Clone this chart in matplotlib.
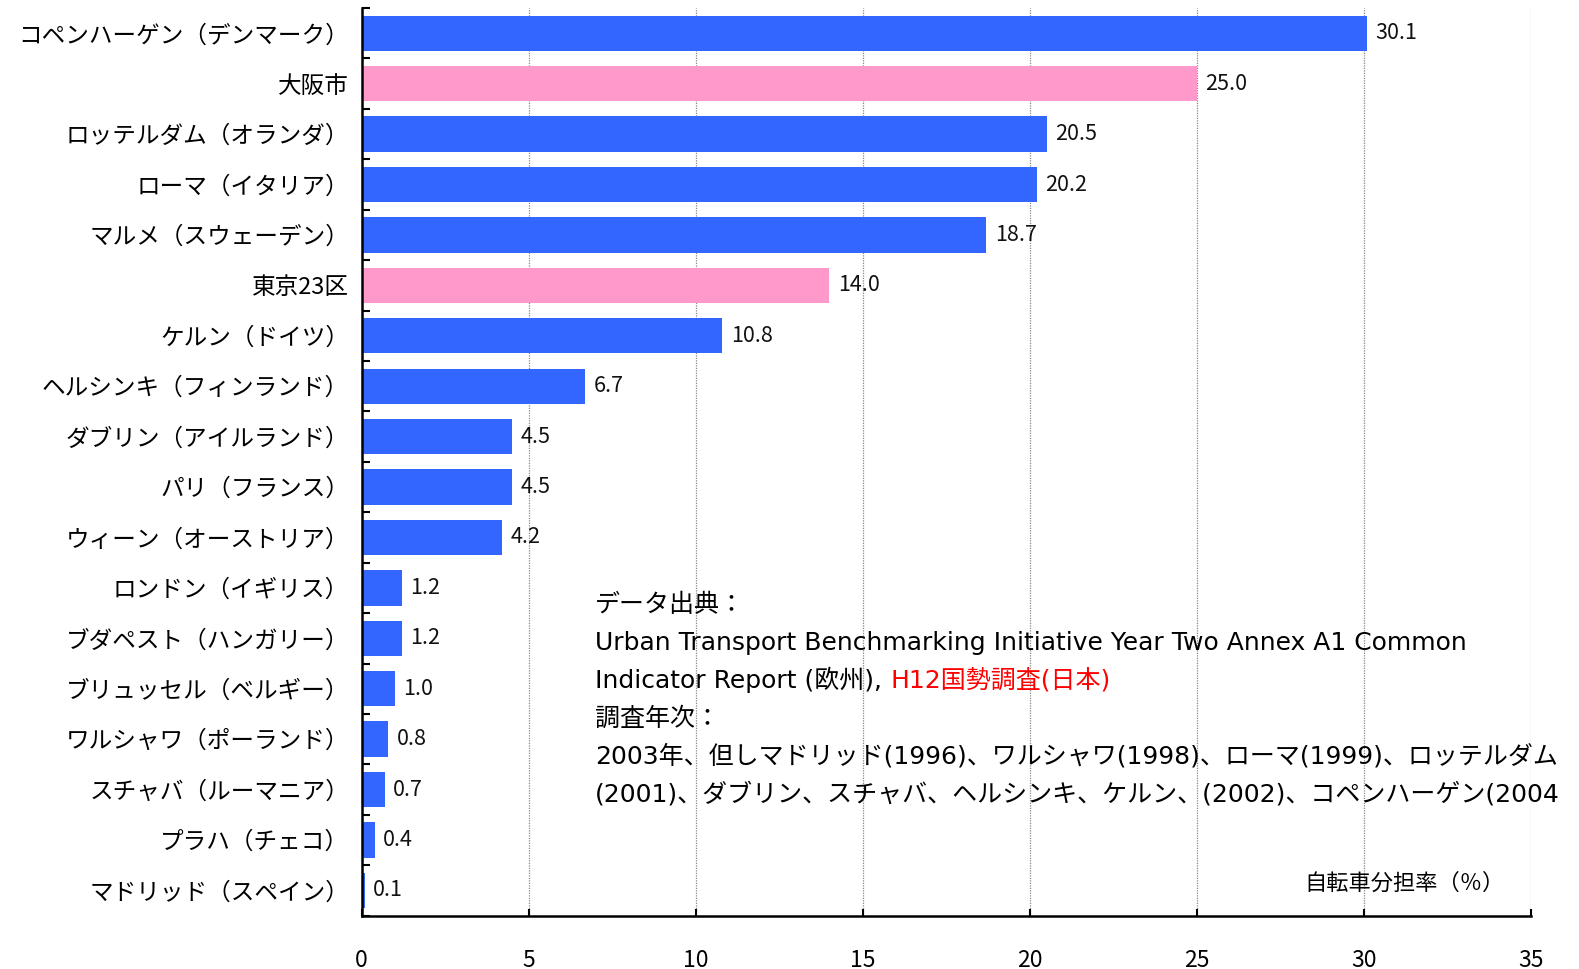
import matplotlib
matplotlib.use('Agg')
import matplotlib.pyplot as plt
import numpy as np

plt.rcParams['font.family'] = ['Noto Sans CJK JP', 'DejaVu Sans']

# data (top to bottom)
cities = [
    'コペンハーゲン（デンマーク）', '大阪市', 'ロッテルダム（オランダ）', 'ローマ（イタリア）',
    'マルメ（スウェーデン）', '東京23区', 'ケルン（ドイツ）', 'ヘルシンキ（フィンランド）',
    'ダブリン（アイルランド）', 'パリ（フランス）', 'ウィーン（オーストリア）', 'ロンドン（イギリス）',
    'ブダペスト（ハンガリー）', 'ブリュッセル（ベルギー）', 'ワルシャワ（ポーランド）',
    'スチャバ（ルーマニア）', 'プラハ（チェコ）', 'マドリッド（スペイン）',
]
shares = [30.1, 25.0, 20.5, 20.2, 18.7, 14.0, 10.8, 6.7, 4.5, 4.5, 4.2,
          1.2, 1.2, 1.0, 0.8, 0.7, 0.4, 0.1]
japan = ['大阪市', '東京23区']
x_ticks = [0, 5, 10, 15, 20, 25, 30, 35]

BLUE = '#3366FF'
PINK = '#FF99CC'

fig = plt.figure(figsize=(15.79, 9.69), dpi=100)
ax = fig.add_axes([0.229, 0.0551, 0.7406, 0.9366])

y = np.arange(len(cities))
colors = [PINK if c in japan else BLUE for c in cities]
bars = ax.barh(y, shares, height=0.7, color=colors, zorder=2)

for b, v in zip(bars, shares):
    ax.text(b.get_width() + 0.25, b.get_y() + b.get_height() / 2, f'{v:.1f}',
            va='center', ha='left', fontsize=15.5, color='#111111')

ax.set_xlim(0, 35)
ax.set_ylim(len(cities) - 0.5, -0.5)
ax.set_xticks(x_ticks)
ax.set_xticklabels([str(t) for t in x_ticks], fontsize=16.5)
ax.tick_params(axis='x', direction='in', length=5, width=1.5, pad=24)

# major ticks on category boundaries, labels on minor ticks at centres
ax.set_yticks(np.arange(-0.5, len(cities), 1.0))
ax.set_yticklabels([])
ax.set_yticks(y, minor=True)
ax.set_yticklabels(cities, minor=True, fontsize=17)
ax.tick_params(axis='y', which='major', direction='in', length=6, width=1.5)
ax.tick_params(axis='y', which='minor', length=0, pad=9)

ax.grid(axis='x', linestyle=(0, (1, 1)), color='#888888', linewidth=0.9, zorder=0)
for s in ['top', 'right']:
    ax.spines[s].set_visible(False)
for s in ['left', 'bottom']:
    ax.spines[s].set_linewidth(1.8)

ax.text(0.892, 0.036, '自転車分担率（％）', transform=ax.transAxes, ha='center',
        va='center', fontsize=16)

# source note
fs = 18
note_font = ['DejaVu Sans', 'Noto Sans CJK JP']
x0 = 0.377
step = 0.039
y0 = 0.368
fig.text(x0, y0, 'データ出典：', fontsize=fs, va='baseline', family=note_font)
fig.text(x0, y0 - step, 'Urban Transport Benchmarking Initiative Year Two Annex A1 Common',
         fontsize=fs, va='baseline', family=note_font)
t3 = fig.text(x0, y0 - 2 * step, 'Indicator Report (欧州), ', fontsize=fs, va='baseline',
              family=note_font)
ax.annotate('H12国勢調査(日本)', xy=(1, 0), xycoords=t3, fontsize=fs,
            va='bottom', ha='left', color='#FF0000', family=note_font)
fig.text(x0, y0 - 3 * step, '調査年次：', fontsize=fs, va='baseline', family=note_font)
fig.text(x0, y0 - 4 * step, '2003年、但しマドリッド(1996)、ワルシャワ(1998)、ローマ(1999)、ロッテルダム',
         fontsize=fs, va='baseline', family=note_font)
fig.text(x0, y0 - 5 * step, '(2001)、ダブリン、スチャバ、ヘルシンキ、ケルン、(2002)、コペンハーゲン(2004',
         fontsize=fs, va='baseline', family=note_font)

fig.savefig('out.png', dpi=100)
